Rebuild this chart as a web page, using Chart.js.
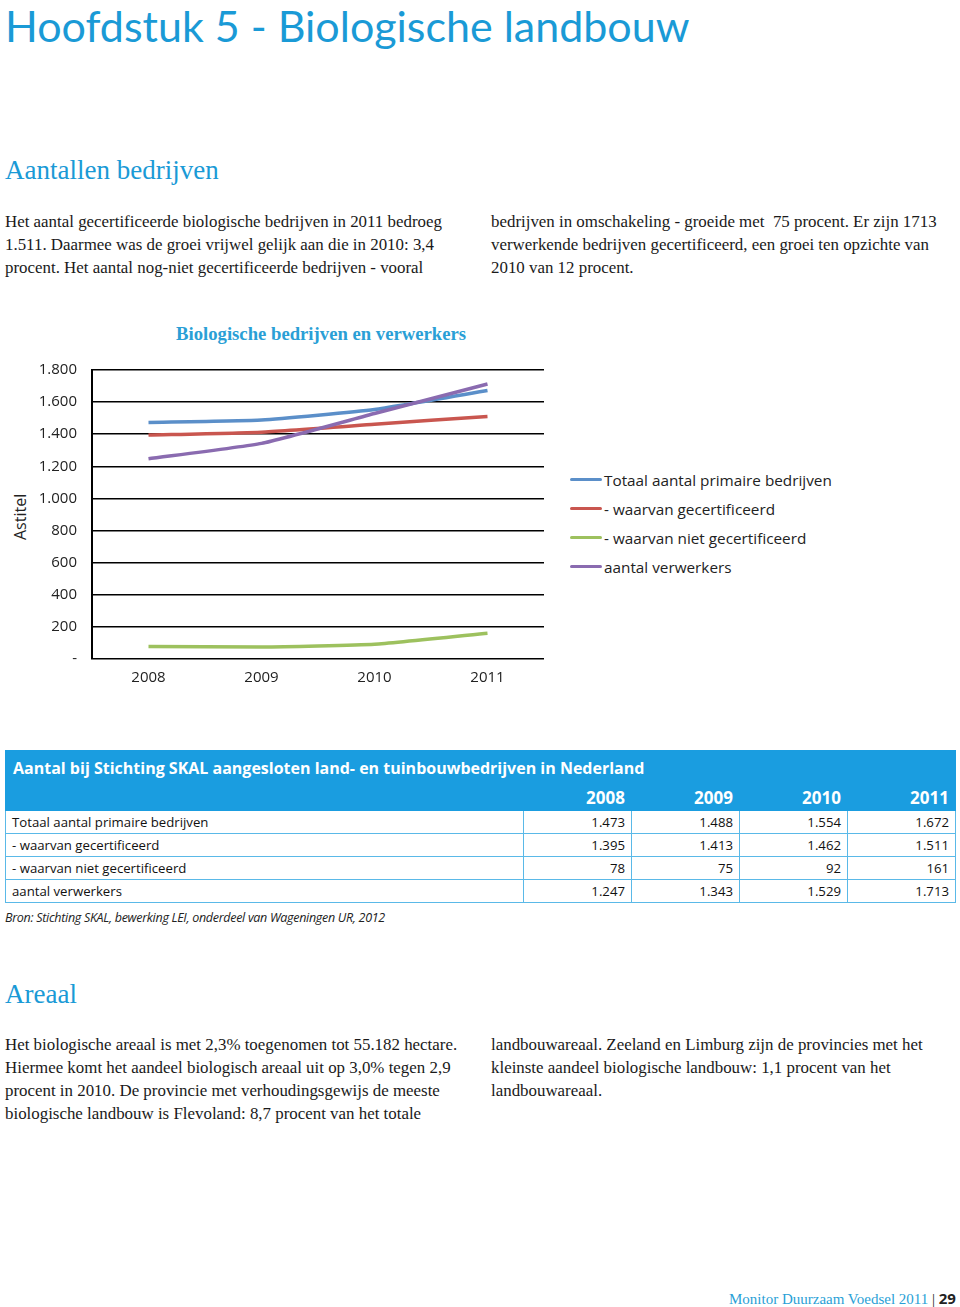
<!DOCTYPE html>
<html>
<head>
<meta charset="utf-8">
<script src="https://cdn.jsdelivr.net/npm/chart.js@4/dist/chart.umd.min.js"></script>
<style>
  body { margin: 0; width: 960px; height: 1307px; background: #fff; position: relative; overflow: hidden; }
  .abs { position: absolute; white-space: nowrap; }
  .h1 { font-family: Lato, sans-serif; font-weight: 400; font-size: 43px; color: #1a9ad6; left: 5px; top: 0; }
  .h2 { font-family: 'Liberation Serif', serif; font-size: 27px; color: #1a9ad6; }
  .p { font-family: 'Liberation Serif', serif; font-size: 16.9px; color: #1a1a1a; line-height: 23px; }
  .ctitle { font-family: 'Liberation Serif', serif; font-weight: bold; font-size: 18.7px; color: #2a9fd6; left: 176px; top: 323px; }
  .axt { font-family: 'Open Sans', sans-serif; font-size: 16px; color: #222; left: 9px; top: 540px; transform: rotate(-90deg); transform-origin: 0 0; }
  #legend { left: 570px; top: 465px; font-family: 'Open Sans', sans-serif; font-size: 15.3px; color: #222; }
  #legend div { height: 29px; display: flex; align-items: center; }
  #legend span.sw { display: inline-block; width: 32px; height: 3px; margin-right: 2px; border-radius: 2px; }
  table { position: absolute; left: 5px; top: 750px; width: 951px; border-collapse: collapse; font-family: 'Open Sans', sans-serif; }
  td { font-size: 13.2px; color: #111; height: 22px; padding: 0 6px; border: 1px solid #5ab9e8; }
  td.n { text-align: right; padding-right: 6px; }
  tr.head td { background: #1a9de0; color: #fff; border-color: #1a9de0; }
  .src { font-family: 'Open Sans', sans-serif; font-style: italic; font-size: 12.5px; color: #222; left: 5px; top: 909px; letter-spacing: -0.3px; }
  .foot { font-family: 'Liberation Serif', serif; font-size: 15px; color: #2a9fd6; left: 729px; top: 1288px; }
</style>
</head>
<body>
<div class="abs h1">Hoofdstuk 5 - Biologische landbouw</div>

<div class="abs h2" style="left:5px;top:155px">Aantallen bedrijven</div>
<div class="abs p" style="left:5px;top:210px">Het aantal gecertificeerde biologische bedrijven in 2011 bedroeg<br>1.511. Daarmee was de groei vrijwel gelijk aan die in 2010: 3,4<br>procent. Het aantal nog-niet gecertificeerde bedrijven - vooral</div>
<div class="abs p" style="left:491px;top:210px">bedrijven in omschakeling - groeide met&nbsp; 75 procent. Er zijn 1713<br>verwerkende bedrijven gecertificeerd, een groei ten opzichte van<br>2010 van 12 procent.</div>

<div class="abs ctitle">Biologische bedrijven en verwerkers</div>
<div class="abs axt">Astitel</div>
<canvas id="c" class="abs" style="left:0;top:346px" width="560" height="354"></canvas>
<div id="legend" class="abs"></div>

<table id="tbl"></table>
<div class="abs src">Bron: Stichting SKAL, bewerking LEI, onderdeel van Wageningen UR, 2012</div>

<div class="abs h2" style="left:5px;top:979px">Areaal</div>
<div class="abs p" style="left:5px;top:1033px">Het biologische areaal is met 2,3% toegenomen tot 55.182 hectare.<br>Hiermee komt het aandeel biologisch areaal uit op 3,0% tegen 2,9<br>procent in 2010. De provincie met verhoudingsgewijs de meeste<br>biologische landbouw is Flevoland: 8,7 procent van het totale</div>
<div class="abs p" style="left:491px;top:1033px">landbouwareaal. Zeeland en Limburg zijn de provincies met het<br>kleinste aandeel biologische landbouw: 1,1 procent van het<br>landbouwareaal.</div>

<div class="abs foot">Monitor Duurzaam Voedsel 2011 <span style="color:#222">|</span> <b style="color:#222;font-family:'Open Sans',sans-serif">29</b></div>

<script>
const years = ['2008', '2009', '2010', '2011'];
const seriesNames = ['Totaal aantal primaire bedrijven', '- waarvan gecertificeerd', '- waarvan niet gecertificeerd', 'aantal verwerkers'];
const totaal = [1473, 1488, 1554, 1672];
const gecertificeerd = [1395, 1413, 1462, 1511];
const nietGecertificeerd = [78, 75, 92, 161];
const verwerkers = [1247, 1343, 1529, 1713];
const yTickLabels = ['-', '200', '400', '600', '800', '1.000', '1.200', '1.400', '1.600', '1.800'];
const tableTitle = 'Aantal bij Stichting SKAL aangesloten land- en tuinbouwbedrijven in Nederland';

const colors = ['#5b8fc9', '#c9564f', '#9dc15e', '#8a6bb0'];
const seriesData = [totaal, gecertificeerd, nietGecertificeerd, verwerkers];
const fmt = v => v >= 1000 ? Math.floor(v / 1000) + '.' + String(v % 1000).padStart(3, '0') : String(v);

new Chart(document.getElementById('c'), {
  type: 'line',
  data: {
    labels: years,
    datasets: seriesData.map((d, i) => ({
      label: seriesNames[i], data: d, borderColor: colors[i], borderWidth: 3.5,
      pointRadius: 0, tension: 0.15, fill: false, order: i === 3 ? 0 : 1
    }))
  },
  options: {
    responsive: false, animation: false,
    layout: { padding: { top: 5, right: 16, left: 0, bottom: 0 } },
    plugins: { legend: { display: false }, tooltip: { enabled: false } },
    scales: {
      x: {
        offset: true,
        grid: { display: false, drawTicks: false },
        border: { display: false },
        ticks: { color: '#222', font: { family: "'Open Sans', sans-serif", size: 15 }, padding: 10 },
        afterFit: s => { s.height = 41; }
      },
      y: {
        min: 0, max: 1800,
        grid: { color: '#000', lineWidth: 1.6, drawTicks: false },
        border: { display: true, color: '#000', width: 2 },
        ticks: { stepSize: 200, color: '#222', padding: 15, font: { family: "'Open Sans', sans-serif", size: 15 },
                 callback: v => yTickLabels[v / 200] },
        afterFit: s => { s.width = 92; }
      }
    }
  }
});

document.getElementById('legend').innerHTML = seriesNames.map((n, i) =>
  `<div><span class="sw" style="background:${colors[i]}"></span>${n}</div>`).join('');

let html = `<tr class="head"><td colspan="5" style="font-size:16px;font-weight:bold;height:30px;padding-left:7px;padding-top:2px">${tableTitle}</td></tr>`;
html += `<tr class="head"><td style="width:505px"></td>` + years.map(y => `<td class="n" style="font-size:17px;font-weight:bold;height:26px;width:95px">${y}</td>`).join('') + '</tr>';
seriesData.forEach((d, i) => {
  html += `<tr><td>${seriesNames[i]}</td>` + d.map(v => `<td class="n">${fmt(v)}</td>`).join('') + '</tr>';
});
document.getElementById('tbl').innerHTML = html;
</script>
</body>
</html>
